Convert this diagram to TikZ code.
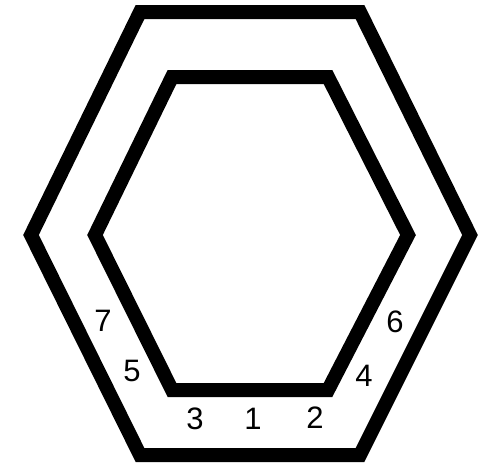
\documentclass[tikz,border=0pt]{standalone}
\usepackage{fontspec}
\setmainfont{Liberation Sans}
\begin{document}
\begin{tikzpicture}[x=1pt,y=-1pt,
  wall/.style={line width=14pt,line join=miter,draw=black},
  num/.style={font=\fontsize{31}{31}\selectfont,inner sep=0pt}]
\useasboundingbox[fill=white] (0,0) rectangle (481,463);
% outer hexagon
\coordinate (o1) at (140,12);
\coordinate (o2) at (360,12);
\coordinate (o3) at (470,235);
\coordinate (o4) at (360,455);
\coordinate (o5) at (140,455);
\coordinate (o6) at (31,235);
\draw[wall] (o1) -- (o2) -- (o3) -- (o4) -- (o5) -- (o6) -- cycle;
% inner hexagon
\coordinate (i1) at (172,77);
\coordinate (i2) at (328,77);
\coordinate (i3) at (408,235);
\coordinate (i4) at (328,390);
\coordinate (i5) at (172,390);
\coordinate (i6) at (95,235);
\draw[wall] (i1) -- (i2) -- (i3) -- (i4) -- (i5) -- (i6) -- cycle;
% labels
\node[num] (n1) at (253,419) {1};
\node[num] (n2) at (315,418) {2};
\node[num] (n3) at (195,419) {3};
\node[num] (n4) at (364,376) {4};
\node[num] (n5) at (132,371) {5};
\node[num] (n6) at (395,322) {6};
\node[num] (n7) at (103,321) {7};
\end{tikzpicture}
\end{document}
